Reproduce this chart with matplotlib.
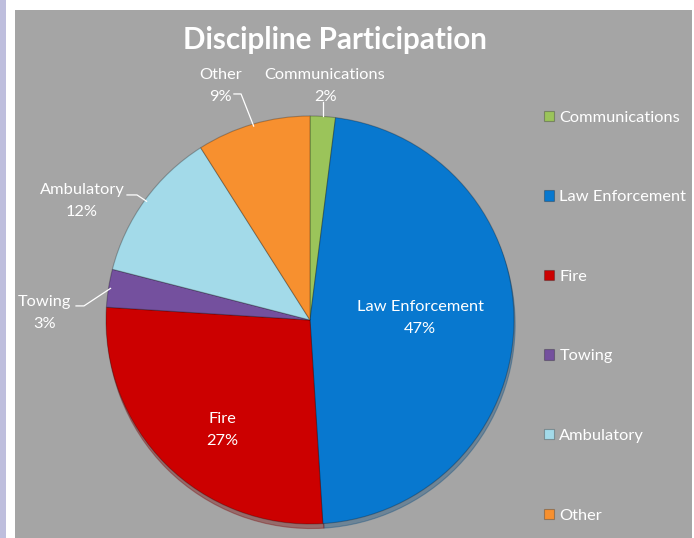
import matplotlib
matplotlib.use("Agg")
import matplotlib.pyplot as plt
from matplotlib.patches import Rectangle
import numpy as np

categories = ["Communications", "Law Enforcement", "Fire", "Towing", "Ambulatory", "Other"]
values = [2, 47, 27, 3, 12, 9]
colors = ["#9BC45A", "#0878CF", "#CC0000", "#74509E", "#A3DAE9", "#F7902F"]

W, H = 694, 538
fig = plt.figure(figsize=(W / 100, H / 100), dpi=100, facecolor="white")

# backgrounds
fig.patches.append(Rectangle((0, 0), 6 / W, 1, transform=fig.transFigure,
                             facecolor="#BEBEDD", edgecolor="none", zorder=-2))
fig.patches.append(Rectangle((15 / W, 0), (692 - 15) / W, (H - 10) / H,
                             transform=fig.transFigure, facecolor="#A5A5A5",
                             edgecolor="none", zorder=-2))

FONT = "Lato"
cx, cy, r = 310, 320, 204
ax = fig.add_axes([(cx - r) / W, (H - cy - r) / H, 2 * r / W, 2 * r / H])

wedges, _ = ax.pie(values, colors=colors, startangle=90, counterclock=False,
                   radius=1, shadow=dict(ox=0.004, oy=-0.016, shade=0.4, alpha=0.35),
                   wedgeprops=dict(edgecolor=(0, 0, 0, 0.25), linewidth=0.8))
ax.set_xlim(-1, 1)
ax.set_ylim(-1, 1)
ax.set_aspect("equal")
ax.axis("off")

# inside labels
inside = {"Law Enforcement": (0.54, 0.01), "Fire": (-0.43, -0.54)}
# outside labels: text position, leader start, elbow point
outside = {
    "Communications": ((0.074, 1.147), None, None),
    "Other": ((-0.44, 1.147), (-0.373, 1.108), (-0.338, 1.108)),
    "Ambulatory": ((-1.118, 0.583), (-0.897, 0.613), (-0.848, 0.613)),
    "Towing": ((-1.30, 0.034), (-1.147, 0.069), (-1.108, 0.069)),
}
total = sum(values)
cum = 0
fs = 11.8
for cat, v in zip(categories, values):
    mid = 90 - (cum + v / 2) / total * 360
    cum += v
    pct = f"{round(v / total * 100)}%"
    txt = f"{cat}\n{pct}"
    if cat in inside:
        x, y = inside[cat]
        ax.text(x, y, txt, ha="center", va="center", color="white",
                fontsize=fs, family=FONT, linespacing=1.7)
    else:
        (tx, ty), start, elbow = outside[cat]
        ax.text(tx, ty, txt, ha="center", va="center", color="white",
                fontsize=fs, family=FONT, linespacing=1.7, clip_on=False)
        ex, ey = np.cos(np.radians(mid)), np.sin(np.radians(mid))
        if elbow is None:
            ax.plot([ex, ex], [1.0, 1.07], color="white", lw=0.9, clip_on=False)
        else:
            ax.plot([start[0], elbow[0], ex * 0.99], [start[1], elbow[1], ey * 0.99],
                    color="white", lw=0.9, clip_on=False)

fig.text(335 / W, 1 - 40 / H, "Discipline Participation", ha="center", va="center",
         color="white", fontsize=21.3, fontweight="bold", family=FONT)

leg = fig.legend(wedges, categories, loc="upper left",
                 bbox_to_anchor=(529 / W, 1 - 96 / H), frameon=False,
                 labelspacing=4.0, handlelength=0.6, handleheight=0.6,
                 handletextpad=0.35, prop=dict(family=FONT, size=11.8),
                 labelcolor="white")

fig.savefig("out.png", dpi=100, facecolor="white")
